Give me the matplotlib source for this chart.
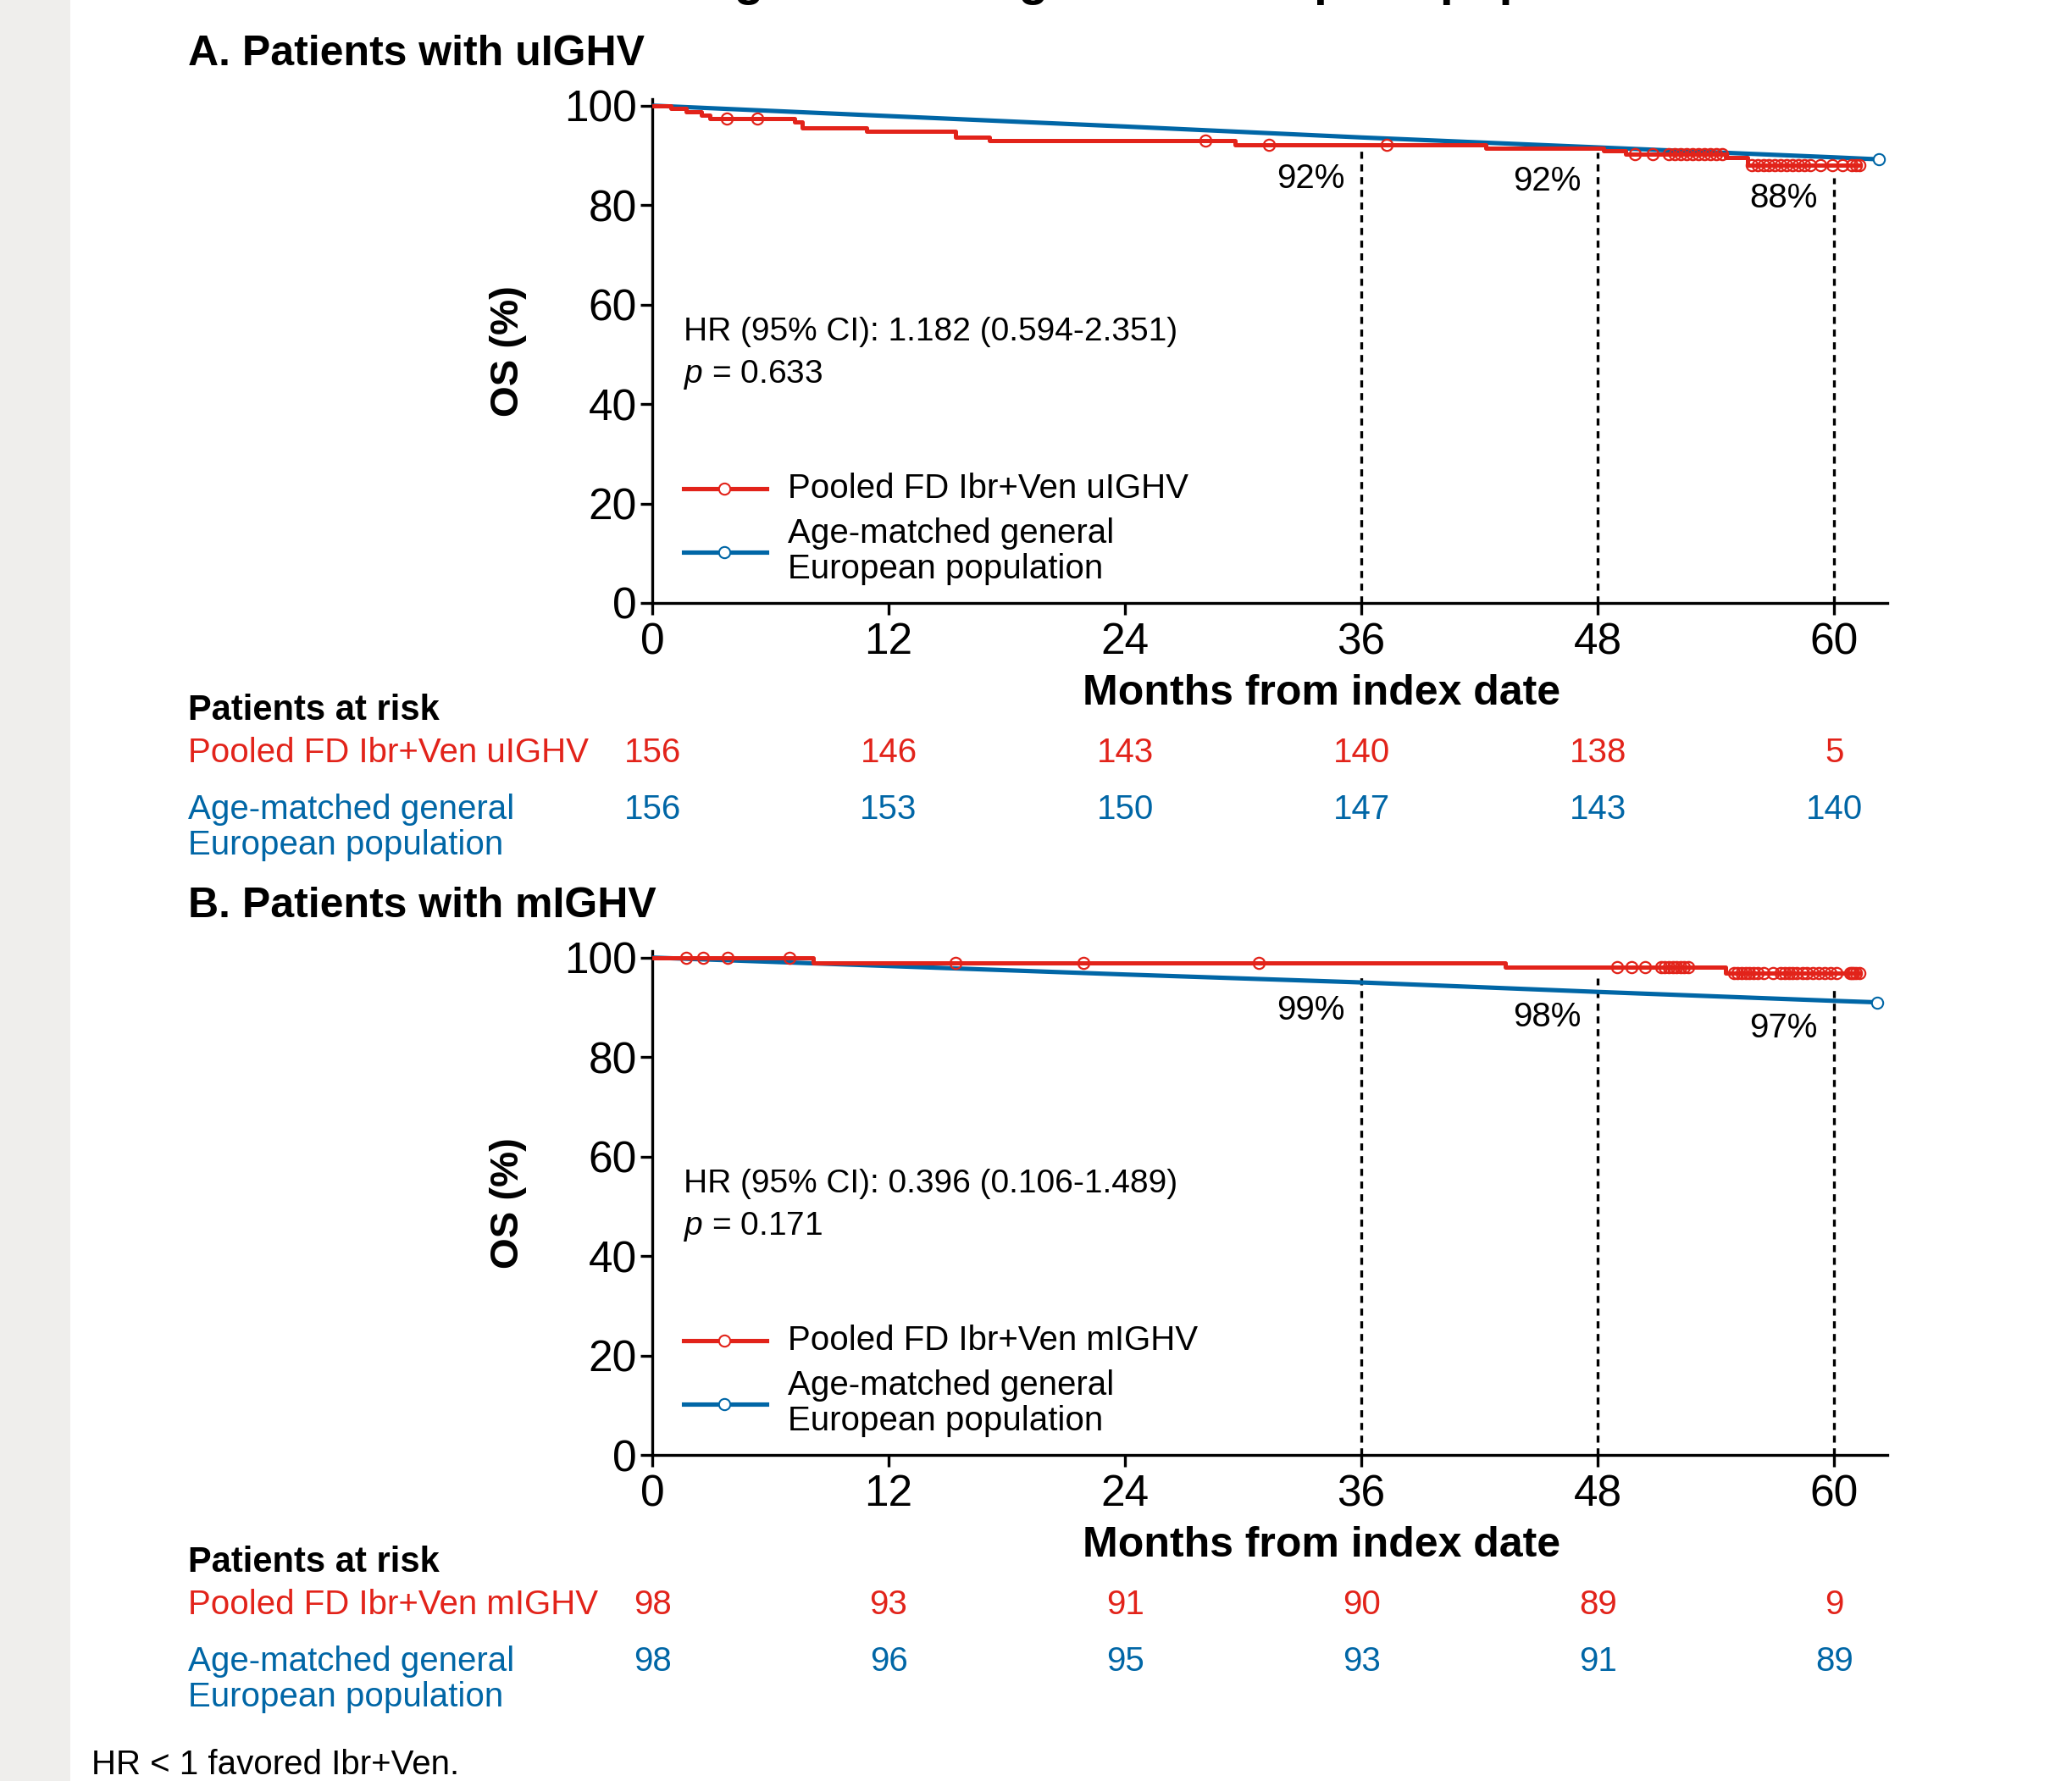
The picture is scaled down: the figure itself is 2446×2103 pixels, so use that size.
import numpy as np
import matplotlib.pyplot as plt
from matplotlib.transforms import blended_transform_factory

plt.rcParams['font.family'] = ['Liberation Sans', 'DejaVu Sans']
plt.rcParams['mathtext.fontset'] = 'custom'
plt.rcParams['mathtext.it'] = 'Liberation Sans:italic'
plt.rcParams['mathtext.rm'] = 'Liberation Sans'

RED = '#E2231A'
BLUE = '#0066A6'

x_ticks = [0, 12, 24, 36, 48, 60]
landmarks = [36, 48, 60]

# A. unmutated IGHV
a_event_t = [0, 0.93, 1.72, 2.51, 2.94, 7.24, 7.6, 10.9, 15.4, 17.1, 29.6, 42.3, 48.3, 49.4, 54.5, 55.6]
a_event_s = [100, 99.4, 98.7, 98.1, 97.4, 96.7, 95.5, 94.8, 93.6, 92.9, 92.2, 91.5, 90.9, 90.2, 89.5, 88.1]
a_red_end = 61.3
a_censor_t = [3.8, 5.35, 28.1, 31.3, 37.3, 49.9, 50.8, 51.6, 51.9, 52.2, 52.5, 52.8, 53.1, 53.4,
              53.7, 54.0, 54.3, 55.8, 56.1, 56.4, 56.7, 57.0, 57.3, 57.6, 57.9, 58.2, 58.5, 58.8,
              59.3, 59.9, 60.4, 60.9, 61.1, 61.3]
a_blue_t = [0, 12, 24, 36, 48, 60, 62.25]
a_blue_s = [100, 97.9, 95.8, 93.6, 91.6, 89.6, 89.2]
a_pct = ['92%', '92%', '88%']
a_hr = 'HR (95% CI): 1.182 (0.594-2.351)'
a_p = '0.633'
a_risk_red = [156, 146, 143, 140, 138, 5]
a_risk_blue = [156, 153, 150, 147, 143, 140]

# B. mutated IGHV
b_event_t = [0, 8.17, 43.3, 54.5]
b_event_s = [100, 99.0, 98.0, 96.9]
b_red_end = 61.3
b_censor_t = [1.72, 2.58, 3.84, 6.95, 15.4, 21.9, 30.8, 49.0, 49.7, 50.4, 51.2, 51.4, 51.6, 51.8,
              52.0, 52.2, 52.4, 52.6, 54.9, 55.1, 55.3, 55.5, 55.7, 55.9, 56.1, 56.4, 56.9, 57.3,
              57.5, 57.7, 57.9, 58.1, 58.4, 58.6, 58.9, 59.2, 59.5, 59.8, 60.1, 60.8, 60.9, 61.0,
              61.1, 61.3]
b_blue_t = [0, 12, 24, 36, 48, 60, 62.2]
b_blue_s = [100, 98.3, 96.6, 95.0, 93.1, 91.3, 91.0]
b_pct = ['99%', '98%', '97%']
b_hr = 'HR (95% CI): 0.396 (0.106-1.489)'
b_p = '0.171'
b_risk_red = [98, 93, 91, 90, 89, 9]
b_risk_blue = [98, 96, 95, 93, 91, 89]

W, H = 2446, 2103
fig = plt.figure(figsize=(W / 100, H / 100), dpi=100)
fig.patch.set_facecolor('white')
fig.add_artist(plt.Rectangle((0, 0), 83 / W, 1, transform=fig.transFigure,
                             facecolor='#EFEEEC', edgecolor='none', zorder=0))


def fx(px):
    return px / W


def fy(py):
    return 1 - py / H


# title line that is cut off at the top edge in the source
fig.text(fx(835), fy(-6), 'age-matched general European population', fontsize=41,
         fontweight='bold', ha='left', va='baseline')

LW_AX = 2.4
X0, X1 = 770, 2228
YTOP = 101.3


def panel(dy, title, ev_t, ev_s, red_end, cens_t, bl_t, bl_s, dash_top, pct, pct_y,
          hr, p, red_label, risk_red, risk_blue):
    y100, y0 = 124.7 + dy, 712 + dy
    ppu = (y0 - y100) / 100
    top_px = y100 - (YTOP - 100) * ppu
    ax = fig.add_axes([fx(X0), fy(y0), (X1 - X0) / W, (y0 - top_px) / H])
    ax.set_xlim(0, 62.7)
    ax.set_ylim(0, YTOP)
    for s in ['top', 'right']:
        ax.spines[s].set_visible(False)
    for s in ['left', 'bottom']:
        ax.spines[s].set_linewidth(LW_AX)
    ax.set_xticks(x_ticks)
    ax.set_yticks([0, 20, 40, 60, 80, 100])
    ax.tick_params(axis='both', direction='out', length=10, width=LW_AX, labelsize=37)
    ax.tick_params(axis='y', pad=3)
    ax.tick_params(axis='x', pad=6)

    # blue: general population
    ax.plot(bl_t, bl_s, color=BLUE, lw=3.7, zorder=3, solid_capstyle='butt')
    ax.plot(bl_t[-1], bl_s[-1], 'o', ms=9.6, mfc='white', mec=BLUE, mew=1.5,
            zorder=4, clip_on=False)

    # red: KM curve with censor marks
    t = list(ev_t) + [red_end]
    s = list(ev_s) + [ev_s[-1]]
    ax.step(t, s, where='post', color=RED, lw=3.6, zorder=5)
    idx = np.searchsorted(ev_t, cens_t, side='right') - 1
    ax.plot(cens_t, np.array(ev_s)[idx], 'o', ms=9.6, mfc='none', mec=RED, mew=1.6,
            zorder=6, clip_on=False)

    # landmark lines
    ax.vlines(landmarks, 0, dash_top, colors='black', lw=2.4, linestyles=(0, (2.5, 2)),
              zorder=2)
    for xm, lab, yl in zip(landmarks, pct, pct_y):
        ax.text(xm - 0.86, yl, lab, fontsize=29, ha='right', va='center')

    ax.set_xlabel('Months from index date', fontsize=36, fontweight='bold')
    ax.xaxis.set_label_coords((1560 - X0) / (X1 - X0), (y0 - (819 + dy)) / (y0 - top_px))
    ax.xaxis.label.set_va('center')
    ax.set_ylabel('OS (%)', fontsize=34, fontweight='bold')
    ax.yaxis.set_label_coords((600 - X0) / (X1 - X0), (y0 - (415 + dy)) / (y0 - top_px))
    ax.yaxis.label.set_va('center')

    # panel title
    fig.text(fx(222), fy(64 + dy), title, fontsize=36, fontweight='bold', ha='left',
             va='center')

    # HR annotation
    fig.text(fx(807), fy(392 + dy), hr, fontsize=28, ha='left', va='center')
    fig.text(fx(807), fy(443 + dy), '$p$ = ' + p, fontsize=28, ha='left', va='center')

    # legend
    for yy, col in [(577, RED), (652, BLUE)]:
        fig.add_artist(plt.Line2D([fx(807), fx(905)], [fy(yy + dy)] * 2, color=col, lw=3.7,
                                  transform=fig.transFigure))
        fig.add_artist(plt.Line2D([fx(855)], [fy(yy + dy)], marker='o', ms=9.6, mfc='white',
                                  mec=col, mew=1.5, transform=fig.transFigure))
    fig.text(fx(930), fy(577 + dy), red_label, fontsize=29, ha='left', va='center')
    fig.text(fx(930), fy(630 + dy), 'Age-matched general', fontsize=29, ha='left', va='center')
    fig.text(fx(930), fy(672 + dy), 'European population', fontsize=29, ha='left', va='center')

    # patients at risk
    tr = blended_transform_factory(ax.transData, fig.transFigure)
    fig.text(fx(222), fy(839 + dy), 'Patients at risk', fontsize=30, fontweight='bold',
             ha='left', va='center')
    fig.text(fx(222), fy(889 + dy), red_label, fontsize=29, color=RED, ha='left', va='center')
    fig.text(fx(222), fy(956 + dy), 'Age-matched general', fontsize=29, color=BLUE,
             ha='left', va='center')
    fig.text(fx(222), fy(998 + dy), 'European population', fontsize=29, color=BLUE,
             ha='left', va='center')
    for xm, nr, nb in zip(x_ticks, risk_red, risk_blue):
        ax.text(xm, fy(889 + dy), str(nr), transform=tr, fontsize=29, color=RED,
                ha='center', va='center')
        ax.text(xm, fy(956 + dy), str(nb), transform=tr, fontsize=29, color=BLUE,
                ha='center', va='center')
    return ax


panel(0, 'A. Patients with uIGHV', a_event_t, a_event_s, a_red_end, a_censor_t,
      a_blue_t, a_blue_s, [92, 90.5, 85.5], a_pct, [85.3, 84.8, 81.4],
      a_hr, a_p, 'Pooled FD Ibr+Ven uIGHV', a_risk_red, a_risk_blue)
panel(1006, 'B. Patients with mIGHV', b_event_t, b_event_s, b_red_end, b_censor_t,
      b_blue_t, b_blue_s, [96.5, 95.9, 93.4], b_pct, [89.4, 88.0, 85.8],
      b_hr, b_p, 'Pooled FD Ibr+Ven mIGHV', b_risk_red, b_risk_blue)

fig.text(fx(108), fy(2084), 'HR < 1 favored Ibr+Ven.', fontsize=29, ha='left', va='center')

fig.savefig('out.png', dpi=100)
